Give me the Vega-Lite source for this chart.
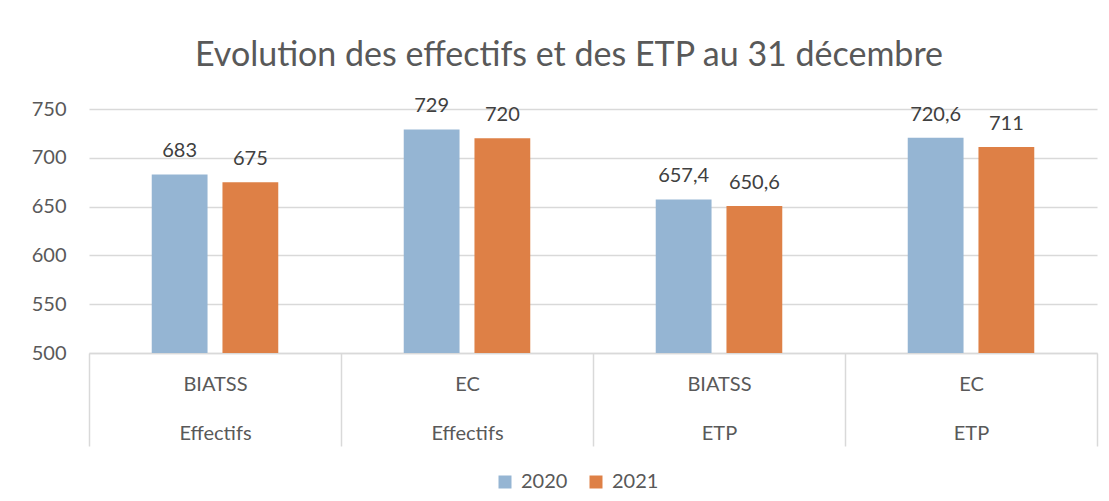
{
  "$schema": "https://vega.github.io/schema/vega-lite/v6.json",
  "width": 1008,
  "height": 244,
  "autosize": {"type": "none"},
  "padding": {"left": 89, "top": 109, "right": 12, "bottom": 148},
  "background": "white",
  "config": {
    "font": "Lato",
    "view": {"stroke": null},
    "locale": {"number": {"decimal": ",", "thousands": " ", "grouping": [3], "currency": ["", " €"]}}
  },
  "title": {
    "text": "Evolution des effectifs et des ETP au 31 décembre",
    "font": "Lato",
    "fontSize": 34,
    "fontWeight": "normal",
    "color": "#595959",
    "anchor": "middle",
    "baseline": "alphabetic",
    "offset": -4,
    "dx": -24
  },
  "data": {
    "values": [
      {"categorie": "BIATSS|Effectifs", "annee": "2020", "valeur": 683},
      {"categorie": "BIATSS|Effectifs", "annee": "2021", "valeur": 675},
      {"categorie": "EC|Effectifs", "annee": "2020", "valeur": 729},
      {"categorie": "EC|Effectifs", "annee": "2021", "valeur": 720},
      {"categorie": "BIATSS|ETP", "annee": "2020", "valeur": 657.4},
      {"categorie": "BIATSS|ETP", "annee": "2021", "valeur": 650.6},
      {"categorie": "EC|ETP", "annee": "2020", "valeur": 720.6},
      {"categorie": "EC|ETP", "annee": "2021", "valeur": 711}
    ]
  },
  "encoding": {
    "x": {
      "field": "categorie",
      "type": "nominal",
      "sort": null,
      "scale": {"paddingInner": 0, "paddingOuter": 0},
      "axis": {
        "title": null,
        "labelAngle": 0,
        "labelExpr": "isValid(datum.value) ? split(datum.value, '|') : ''",
        "labelLineHeight": 49,
        "labelFont": "Lato",
        "labelFontSize": 20,
        "labelColor": "#595959",
        "labelBaseline": "top",
        "labelPadding": -72,
        "tickBand": "extent",
        "tickSize": 93,
        "tickColor": "#d9d9d9",
        "tickWidth": 1.5,
        "domainColor": "#d9d9d9",
        "domainWidth": 1.5,
        "grid": false
      }
    },
    "xOffset": {
      "field": "annee",
      "type": "nominal",
      "scale": {"paddingInner": 0.211, "paddingOuter": 0.887}
    },
    "y": {
      "field": "valeur",
      "type": "quantitative",
      "scale": {"domain": [500, 750], "zero": false, "nice": false},
      "axis": {
        "title": null,
        "values": [500, 550, 600, 650, 700, 750],
        "domain": false,
        "ticks": false,
        "labelFont": "Lato",
        "labelFontSize": 20,
        "labelColor": "#595959",
        "labelPadding": 23,
        "gridColor": "#d9d9d9",
        "gridWidth": 1.5
      }
    }
  },
  "layer": [
    {
      "mark": {"type": "bar", "clip": true},
      "encoding": {
        "color": {
          "field": "annee",
          "type": "nominal",
          "scale": {"domain": ["2020", "2021"], "range": ["#95B5D3", "#DE8046"]},
          "legend": {
            "title": null,
            "orient": "none",
            "legendX": 406,
            "legendY": 363,
            "direction": "horizontal",
            "symbolType": "square",
            "symbolSize": 169,
            "symbolStrokeWidth": 0,
            "labelFont": "Lato",
            "labelFontSize": 20,
            "labelColor": "#595959",
            "labelOffset": 6,
            "columnPadding": 18
          }
        }
      }
    },
    {
      "mark": {"type": "text", "baseline": "bottom", "dy": -13, "fontSize": 20, "font": "Lato", "color": "#404040"},
      "encoding": {
        "text": {"field": "valeur", "type": "quantitative", "format": "~f"}
      }
    }
  ]
}
